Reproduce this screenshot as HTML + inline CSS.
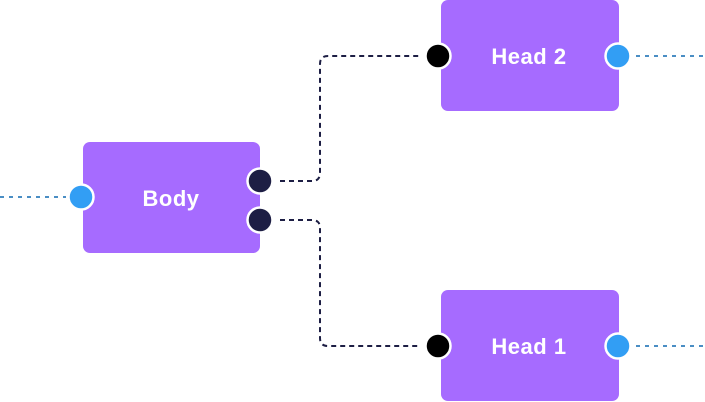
<!DOCTYPE html>
<html><head><meta charset="utf-8"><style>
html,body{margin:0;padding:0;background:#fff;width:705px;height:402px;overflow:hidden}
</style></head><body>
<svg width="705" height="402" viewBox="0 0 705 402" xmlns="http://www.w3.org/2000/svg">
<g fill="none" stroke-width="2">
<path d="M0 197 H66" stroke="#4a8ec4" stroke-dasharray="4 5"/>
<path d="M636 56 H705" stroke="#4a8ec4" stroke-dasharray="4 5"/>
<path d="M636 346 H705" stroke="#4a8ec4" stroke-dasharray="4 5"/>
<path d="M280 181 H312 Q320 181 320 173 V64 Q320 56 328 56 H420" stroke="#1d1e44" stroke-dasharray="5 4"/>
<path d="M280 220 H312 Q320 220 320 228 V338 Q320 346 328 346 H420" stroke="#1d1e44" stroke-dasharray="5 4"/>
</g>
<rect x="83" y="142" width="177" height="111" rx="7" fill="#a66bff"/>
<rect x="441" y="0" width="178" height="111" rx="7" fill="#a66bff"/>
<rect x="441" y="290" width="178" height="111" rx="7" fill="#a66bff"/>
<g stroke="#fff" stroke-width="2.5">
<circle cx="81" cy="197" r="12.5" fill="#329ef4"/>
<circle cx="260" cy="181" r="12.5" fill="#1d1e44"/>
<circle cx="260" cy="220" r="12.5" fill="#1d1e44"/>
<circle cx="438" cy="56" r="12.5" fill="#000"/>
<circle cx="618" cy="56" r="12.5" fill="#329ef4"/>
<circle cx="438" cy="346" r="12.5" fill="#000"/>
<circle cx="618" cy="346" r="12.5" fill="#329ef4"/>
</g>
<g font-family="Liberation Sans, sans-serif" font-weight="bold" font-size="22" fill="#fff" text-anchor="middle" letter-spacing="0.5">
<text x="171" y="206">Body</text>
<text x="529" y="64">Head 2</text>
<text x="529" y="354">Head 1</text>
</g>
</svg>
</body></html>
